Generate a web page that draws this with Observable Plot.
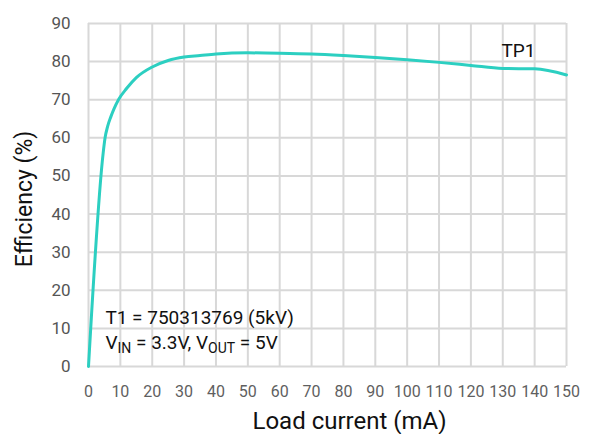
<!DOCTYPE html>
<html>
<head>
<meta charset="utf-8">
<script src="https://cdn.jsdelivr.net/npm/d3@7"></script>
<script src="https://cdn.jsdelivr.net/npm/@observablehq/plot@0.6"></script>
<style>
  html, body { margin: 0; padding: 0; background: #fff; }
  #chart svg { display: block; }
</style>
</head>
<body>
<div id="chart"></div>
<script>
// Efficiency curve of the converter versus load current
const loadCurrent = [0, 4.6, 5.2, 6, 7, 8, 9.4, 12, 15, 20, 25, 30, 35, 40, 50, 60, 70, 80, 90, 100, 110, 120, 130, 140, 150];
const efficiency  = [0, 56, 60, 63, 65.5, 67.6, 70, 73, 75.8, 78.6, 80.3, 81.2, 81.6, 82.0, 82.3, 82.2, 82.0, 81.6, 81.1, 80.5, 79.8, 79.0, 78.2, 78.1, 76.5];

const xTicks = [0, 10, 20, 30, 40, 50, 60, 70, 80, 90, 100, 110, 120, 130, 140, 150];
const yTicks = [0, 10, 20, 30, 40, 50, 60, 70, 80, 90];

const xTitle = "Load current (mA)";
const yTitle = "Efficiency (%)";
const seriesLabel = "TP1";
const seriesLabelPos = {x: 129.6, y: 82.7};
const noteLines = ["T1 = 750313769 (5kV)", "VIN = 3.3V, VOUT = 5V"];
const notePos = [{x: 5.3, y: 12.8}, {x: 5.3, y: 6.3}];

const points = loadCurrent.map((x, i) => ({x, y: efficiency[i]}));
const notes = noteLines.map((t, i) => ({text: t, ...notePos[i]}));

const gridStyle = {stroke: "#d8d8d8", strokeOpacity: 1, strokeWidth: 2};

const chart = Plot.plot({
  width: 593,
  height: 434,
  marginLeft: 88,
  marginRight: 27,
  marginTop: 23,
  marginBottom: 68,
  style: {fontFamily: "Roboto, 'DejaVu Sans', sans-serif", background: "#fff", overflow: "visible"},
  x: {domain: [0, 150]},
  y: {domain: [0, 90]},
  marks: [
    Plot.gridX(xTicks, gridStyle),
    Plot.gridY(yTicks, gridStyle),
    Plot.axisX(xTicks, {tickSize: 0, tickPadding: 19, fontSize: 16, fill: "#5f5f5f", label: null}),
    Plot.axisY(yTicks, {tickSize: 0, tickPadding: 18, fontSize: 17, fill: "#555", label: null}),
    Plot.line(points, {x: "x", y: "y", stroke: "#2ccfc1", strokeWidth: 3, curve: "monotone-x"}),
    Plot.text([seriesLabel], {x: seriesLabelPos.x, y: seriesLabelPos.y, text: d => d, fontSize: 19, fill: "#111", textAnchor: "start"}),
    Plot.text(notes, {x: "x", y: "y", text: "text", fontSize: 19, fill: "#111", textAnchor: "start"}),
    Plot.text([xTitle], {frameAnchor: "bottom", lineAnchor: "middle", textAnchor: "middle", dx: 22, dy: 55, text: d => d, fontSize: 24, fill: "#111"}),
    Plot.text([yTitle], {frameAnchor: "left", lineAnchor: "middle", textAnchor: "middle", dx: -64, dy: 4, rotate: -90, text: d => d, fontSize: 23, fill: "#111"})
  ]
});

// Set the IN / OUT parts of the voltage note as subscripts
d3.select(chart).selectAll("text").each(function () {
  if (this.textContent !== noteLines[1]) return;
  const t = d3.select(this);
  t.text(null);
  const parts = [["V", false], ["IN", true], [" = 3.3V, V", false], ["OUT", true], [" = 5V", false]];
  parts.forEach(([s, sub]) => {
    const span = t.append("tspan").text(s);
    if (sub) span.attr("font-size", 14).attr("baseline-shift", "-30%");
  });
});

document.getElementById("chart").append(chart);
</script>
</body>
</html>
